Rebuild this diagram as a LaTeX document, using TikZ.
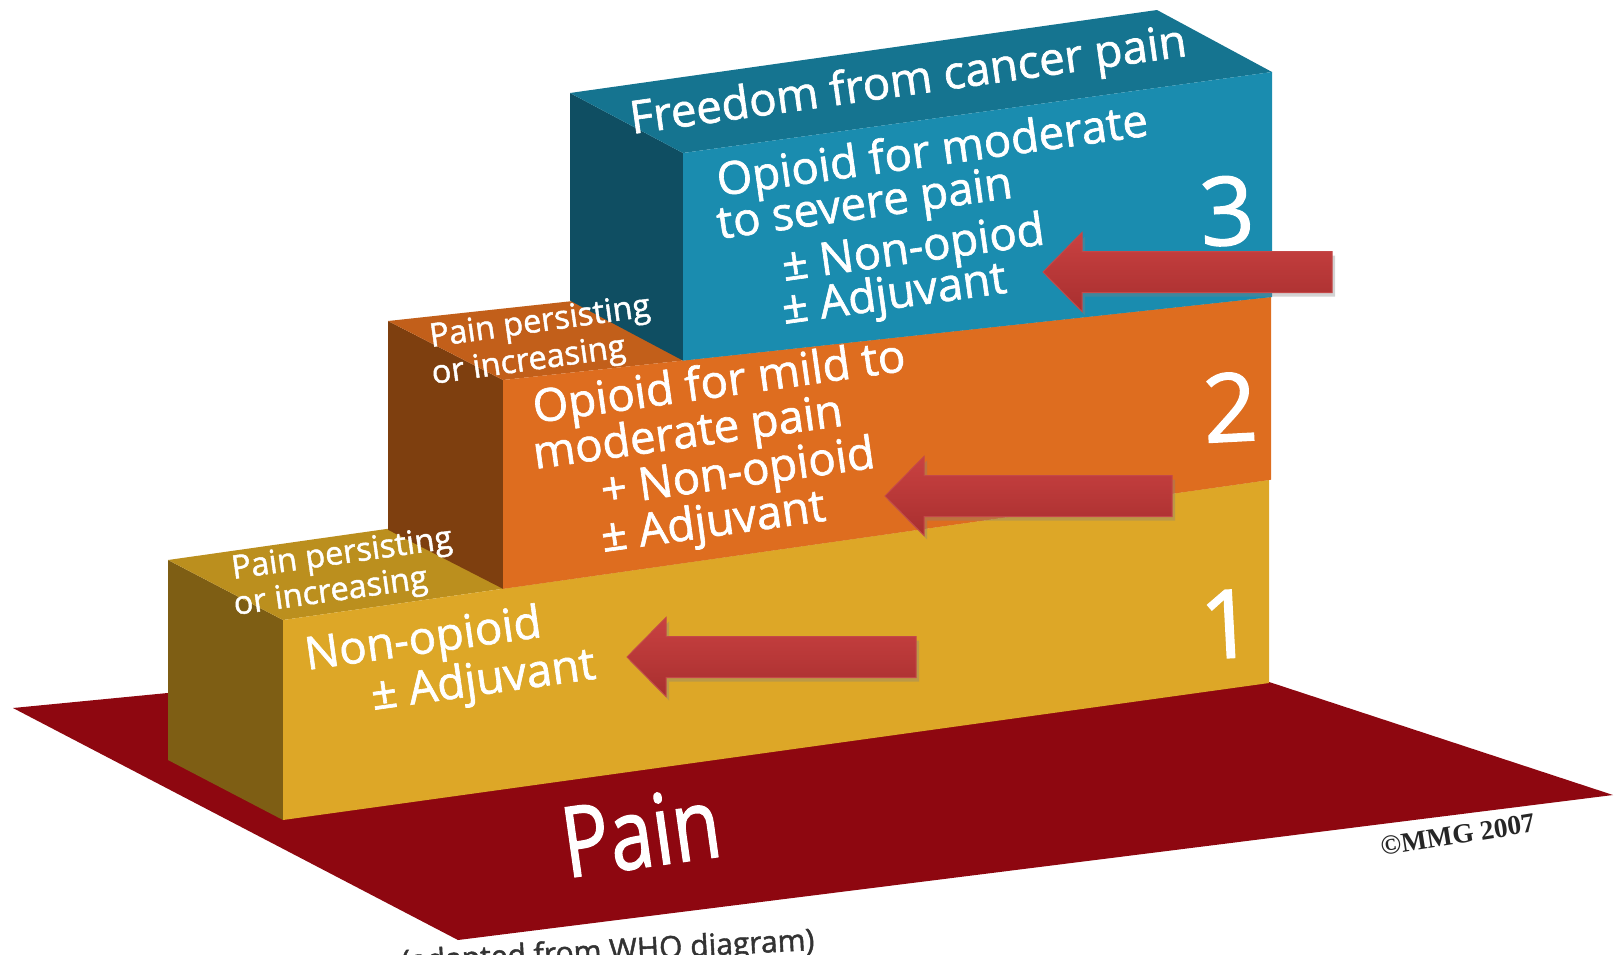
\documentclass[tikz,border=0pt]{standalone}
\usepackage{fontspec}
\setmainfont{Open Sans}
\newfontfamily\stepfont[FakeBold=1.4]{Open Sans}
\newfontfamily\markfont{Liberation Serif}
\usetikzlibrary{shadows,calc}

% palette
\definecolor{floorred}{HTML}{8E0710}
\definecolor{ylwfront}{HTML}{DDA727}
\definecolor{ylwtop}{HTML}{BB8F1E}
\definecolor{ylwside}{HTML}{7E5E14}
\definecolor{orgfront}{HTML}{DE6D1F}
\definecolor{orgtop}{HTML}{C25F1A}
\definecolor{orgside}{HTML}{7E3F0F}
\definecolor{bluefront}{HTML}{1A8CAF}
\definecolor{bluetop}{HTML}{157490}
\definecolor{blueside}{HTML}{0F4E62}
\definecolor{arrowtop}{HTML}{C94141}
\definecolor{arrowbot}{HTML}{A82F2F}
\definecolor{arrowedge}{HTML}{C44848}

\begin{document}
\begin{tikzpicture}[x=1pt,y=-1pt,
  lbl/.style={text=white, inner sep=0pt, anchor=base west, rotate=8,
              font=\stepfont\fontsize{45.5}{45.5}\selectfont},
  smalllbl/.style={lbl, font=\stepfont\fontsize{32.5}{32.5}\selectfont},
  bignum/.style={text=white, inner sep=0pt, rotate=3,
                 font=\stepfont\fontsize{95}{95}\selectfont},
  blockarrow/.style={draw=arrowedge, line width=1pt, line join=miter,
                     top color=arrowtop, bottom color=arrowbot,
                     drop shadow={opacity=0.35, shadow xshift=3pt, shadow yshift=-4pt}}
]
\useasboundingbox (0,0) rectangle (1617,954);
\clip (0,0) rectangle (1617,954);

% ---- floor ----
\coordinate (FL) at (13,708);
\coordinate (FF) at (458,940);
\coordinate (FR) at (1613,795);
\coordinate (FB) at (1044,608);
\fill[floorred] (FL) -- (FF) -- (FR) -- (FB) -- cycle;

% ---- step 1 (yellow) ----
\coordinate (A1) at (283,620);
\coordinate (B1) at (1269,480);
\coordinate (C1) at (1269,683);
\coordinate (D1) at (283,820);
\fill[ylwside] (D1) -- (A1) -- ++(-115,-60) -- ($(D1)+(-115,-60)$) -- cycle;
\fill[ylwtop] (A1) -- (B1) -- ++(-115,-60) -- ($(A1)+(-115,-60)$) -- cycle;
\fill[ylwfront] (A1) -- (B1) -- (C1) -- (D1) -- cycle;

% ---- step 2 (orange) ----
\coordinate (A2) at (503,380);
\coordinate (B2) at (1271,297);
\coordinate (C2) at (1271,479.7);
\coordinate (D2) at (503,588.8);
\fill[orgside] (D2) -- (A2) -- ++(-115,-59) -- ($(D2)+(-115,-59)$) -- cycle;
\fill[orgtop] (A2) -- (B2) -- ++(-115,-59) -- ($(A2)+(-115,-59)$) -- cycle;
\fill[orgfront] (A2) -- (B2) -- (C2) -- (D2) -- cycle;

% ---- step 3 (blue) ----
\coordinate (A3) at (683,153);
\coordinate (B3) at (1272,72);
\coordinate (C3) at (1272,297);
\coordinate (D3) at (683,360.6);
\fill[blueside] (D3) -- (A3) -- ++(-113,-60) -- ($(D3)+(-113,-60)$) -- cycle;
\fill[bluetop] (A3) -- (B3) -- ++(-115,-62) -- ($(A3)+(-113,-60)$) -- cycle;
\fill[bluefront] (A3) -- (B3) -- (C3) -- (D3) -- cycle;

% ---- texts on the steps ----
\node[lbl] (top3) at (632,134) {Freedom from cancer pain};
\node[lbl] (t3a) at (719,196) {Opioid for moderate};
\node[lbl] (t3b) at (719,239) {to severe pain};
\node[lbl] (t3c) at (784,281) {± Non-opiod};
\node[lbl] (t3d) at (784,324) {± Adjuvant};

\node[smalllbl] (p2a) at (431,347) {Pain persisting};
\node[smalllbl] (p2b) at (433,384) {or increasing};
\node[lbl] (t2a) at (535,423) {Opioid for mild to};
\node[lbl] (t2b) at (535,469) {moderate pain};
\node[lbl] (t2c) at (603,506) {+ Non-opioid};
\node[lbl] (t2d) at (603,552) {± Adjuvant};

\node[smalllbl] (p1a) at (233,579) {Pain persisting};
\node[smalllbl] (p1b) at (235,615) {or increasing};
\node[lbl] (t1a) at (307,670) {Non-opioid};
\node[lbl] (t1b) at (373,710) {± Adjuvant};

\node[bignum] (n3) at (1227,211) {3};
\node[bignum] (n2) at (1230,407) {2};
\node[bignum] (n1) at (1227,624) {1};

% ---- floor texts ----
\node[text=white, inner sep=0pt, anchor=base west, rotate=8, xscale=0.8,
      font=\stepfont\fontsize{98}{98}\selectfont] (pain) at (567,878) {Pain};
\node[text=black!85, inner sep=0pt, anchor=base west, rotate=9,
      font=\markfont\bfseries\fontsize{27.5}{27.5}\selectfont] (mark) at (1382,856) {©MMG 2007};
\node[text=black!80, inner sep=0pt, anchor=base east, rotate=3,
      font=\stepfont\fontsize{30}{30}\selectfont] (src) at (815,950) {(adapted from WHO diagram)};

% ---- block arrows ----
\path[blockarrow] (1043,272) -- (1082,232.5) -- (1082,251.5) -- (1332,251.5)
  -- (1332,292.5) -- (1082,292.5) -- (1082,311.5) -- cycle;
\path[blockarrow] (885,496) -- (924,456.5) -- (924,475.5) -- (1172,475.5)
  -- (1172,516.5) -- (924,516.5) -- (924,535.5) -- cycle;
\path[blockarrow] (627,657) -- (666,617.5) -- (666,636.5) -- (916,636.5)
  -- (916,677.5) -- (666,677.5) -- (666,696.5) -- cycle;
\end{tikzpicture}
\end{document}
